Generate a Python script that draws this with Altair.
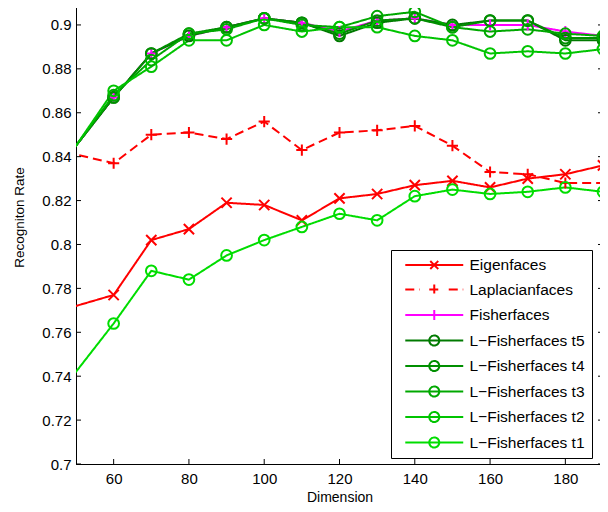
import altair as alt
import pandas as pd

dims = [40, 60, 70, 80, 90, 100, 110, 120, 130, 140, 150, 160, 170, 180, 190]

eigenfaces = [0.767, 0.777, 0.802, 0.807, 0.819, 0.818, 0.811, 0.821, 0.823, 0.827, 0.829, 0.826, 0.830, 0.832, 0.836]
laplacianfaces = [0.845, 0.837, 0.850, 0.851, 0.848, 0.856, 0.843, 0.851, 0.852, 0.854, 0.845, 0.833, 0.832, 0.828, 0.828]
fisherfaces = [0.823, 0.867, 0.887, 0.895, 0.899, 0.903, 0.901, 0.897, 0.902, 0.903, 0.900, 0.900, 0.900, 0.897, 0.895]
lf_t5 = [0.823, 0.867, 0.887, 0.895, 0.899, 0.903, 0.901, 0.895, 0.901, 0.903, 0.900, 0.902, 0.902, 0.893, 0.893]
lf_t4 = [0.823, 0.867, 0.887, 0.896, 0.899, 0.903, 0.901, 0.896, 0.902, 0.903, 0.899, 0.902, 0.902, 0.894, 0.894]
lf_t3 = [0.822, 0.868, 0.884, 0.896, 0.898, 0.903, 0.900, 0.899, 0.904, 0.906, 0.899, 0.897, 0.898, 0.896, 0.895]
lf_t2 = [0.820, 0.870, 0.881, 0.893, 0.893, 0.900, 0.897, 0.899, 0.899, 0.895, 0.893, 0.887, 0.888, 0.887, 0.889]
lf_t1 = [0.720, 0.764, 0.788, 0.784, 0.795, 0.802, 0.808, 0.814, 0.811, 0.822, 0.825, 0.823, 0.824, 0.826, 0.824]

names = ["Eigenfaces", "Laplacianfaces", "Fisherfaces",
         "L\u2212Fisherfaces t5", "L\u2212Fisherfaces t4", "L\u2212Fisherfaces t3",
         "L\u2212Fisherfaces t2", "L\u2212Fisherfaces t1"]
series_values = [eigenfaces, laplacianfaces, fisherfaces, lf_t5, lf_t4, lf_t3, lf_t2, lf_t1]
colors = ["#ff0000", "#ff0000", "#ff00ff", "#007a00", "#008f00", "#00a800", "#00c400", "#00dd00"]
dashes = [[1, 0], [9, 5], [1, 0], [1, 0], [1, 0], [1, 0], [1, 0], [1, 0]]
marker_kind = ["x", "plus", "plus", "circle", "circle", "circle", "circle", "circle"]

x_ticks = [60, 80, 100, 120, 140, 160, 180]
y_ticks = [0.7, 0.72, 0.74, 0.76, 0.78, 0.8, 0.82, 0.84, 0.86, 0.88, 0.9]

rows = []
for n, vals, mk in zip(names, series_values, marker_kind):
    for d, v in zip(dims, vals):
        rows.append({"dim": d, "value": v, "series": n, "marker": mk})
df = pd.DataFrame(rows)

W, H = 527, 461
FONT = "Liberation Sans"

xs = alt.Scale(domain=[50, 190], nice=False, zero=False)
ys = alt.Scale(domain=[0.7, 0.91], nice=False, zero=False)
cs = alt.Scale(domain=names, range=colors)

x_axis = alt.Axis(values=x_ticks, title="Dimension", ticks=False, grid=False,
                  labelPadding=7, titlePadding=4)
y_axis = alt.Axis(values=y_ticks, title="Recogniton Rate", ticks=False, grid=False,
                  format=".2~f", labelPadding=5, titleX=-50, titleY=214,
                  titleFontSize=13.5)

X_PATH = "M-1,-1L1,1M-1,1L1,-1"
P_PATH = "M-1,0L1,0M0,-1L0,1"

# legend symbols: unit = sqrt(symbolSize)/2 px
circ = "M-0.1,0L7.9,0M3.21,0A0.69,0.69,0,1,0,4.59,0A0.69,0.69,0,1,0,3.21,0"
leg_paths = [
    "M-0.1,0L7.9,0M3.35,-0.55L4.45,0.55M3.35,0.55L4.45,-0.55",
    "M-0.1,0L1.9,0M3.21,0L4.59,0M3.9,-0.69L3.9,0.69M5.9,0L7.9,0",
    "M-0.1,0L7.9,0M3.9,-0.69L3.9,0.69",
    circ, circ, circ, circ, circ,
]

legend = alt.Legend(title=None, orient="none", legendX=315, legendY=247,
                    strokeColor="black", fillColor="white", padding=6.5,
                    labelFont=FONT, labelFontSize=15.5, labelColor="black",
                    labelOffset=55, rowPadding=6.5, symbolSize=210,
                    symbolStrokeWidth=2, symbolOpacity=1, labelLimit=300)

base = alt.Chart(df)

lines = base.mark_line(strokeWidth=2, clip=True).encode(
    x=alt.X("dim:Q", scale=xs, axis=x_axis),
    y=alt.Y("value:Q", scale=ys, axis=y_axis),
    color=alt.Color("series:N", scale=cs, legend=legend),
    strokeDash=alt.StrokeDash("series:N", scale=alt.Scale(domain=names, range=dashes), legend=None),
    detail="series:N",
)

def markers(kind, shape, size):
    return base.transform_filter(
        f"datum.marker == '{kind}' && datum.dim >= 50"
    ).mark_point(shape=shape, size=size, filled=False, strokeWidth=2, opacity=1).encode(
        x=alt.X("dim:Q", scale=xs, axis=x_axis),
        y=alt.Y("value:Q", scale=ys, axis=y_axis),
        color=alt.Color("series:N", scale=cs, legend=legend),
    )

pts_x = markers("x", X_PATH, 105)
pts_p = markers("plus", P_PATH, 125)
pts_o = markers("circle", "circle", 115)

legend_layer = base.mark_point(filled=False, strokeWidth=2, opacity=0).encode(
    x=alt.X("dim:Q", scale=xs, axis=x_axis),
    y=alt.Y("value:Q", scale=ys, axis=y_axis),
    color=alt.Color("series:N", scale=cs, legend=legend),
    shape=alt.Shape("series:N", scale=alt.Scale(domain=names, range=leg_paths), legend=legend),
)

tick_df = pd.DataFrame({"dim": x_ticks})
ytick_df = pd.DataFrame({"value": y_ticks})
xt_bottom = alt.Chart(tick_df).mark_rule(color="black", strokeWidth=1).encode(
    x=alt.X("dim:Q", scale=xs, axis=x_axis), y=alt.value(H), y2=alt.value(H - 5))
xt_top = alt.Chart(tick_df).mark_rule(color="black", strokeWidth=1).encode(
    x=alt.X("dim:Q", scale=xs, axis=x_axis), y=alt.value(0), y2=alt.value(5))
yt_left = alt.Chart(ytick_df).mark_rule(color="black", strokeWidth=1).encode(
    y=alt.Y("value:Q", scale=ys, axis=y_axis), x=alt.value(0), x2=alt.value(5))
yt_right = alt.Chart(ytick_df).mark_rule(color="black", strokeWidth=1).encode(
    y=alt.Y("value:Q", scale=ys, axis=y_axis), x=alt.value(W), x2=alt.value(W - 5))

chart = alt.layer(
    lines, pts_x, pts_p, pts_o, legend_layer, xt_bottom, xt_top, yt_left, yt_right
).properties(
    width=W, height=H,
    autosize=alt.AutoSizeParams(type="none"),
    padding={"left": 68, "top": -5, "right": -3, "bottom": 40},
).configure_view(
    stroke="black", strokeWidth=1
).configure_axis(
    labelFont=FONT, labelFontSize=15, labelColor="black",
    titleFont=FONT, titleFontSize=14, titleFontWeight="normal", titleColor="black",
    domainColor="black", domainWidth=1,
)

chart.save("out.html", embed_options={"renderer": "svg", "actions": False})
